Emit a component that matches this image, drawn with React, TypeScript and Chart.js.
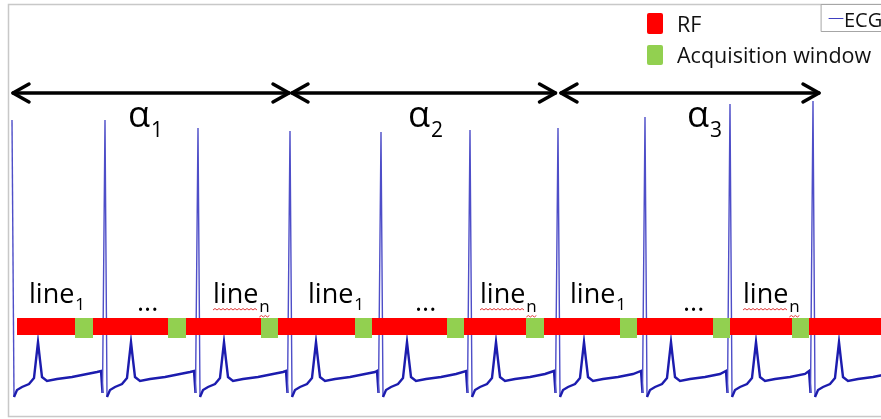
import React, { useEffect, useRef } from "react";
import { Chart, registerables } from "chart.js";

Chart.register(...registerables);

// ---- data (time in ms, amplitude in mV) ----
const rPeakTimes = [30, 960, 1890, 2810, 3720, 4610, 5490, 6360, 7210, 8040];
const rPeakAmps = [2.46, 2.46, 2.38, 2.35, 2.34, 2.36, 2.38, 2.49, 2.62, 2.65];
// one beat: offset from the R peak (ms) and amplitude (mV); offset 0 = R peak
const beatOffsets = [-40, -25, 0, 20, 50, 100, 170, 220, 240, 260, 280, 300, 350, 450, 600, 750, 850];
const beatAmps = [-0.05, -0.27, 0, -0.31, -0.24, -0.21, -0.18, -0.12, 0.06, 0.24, 0.06, -0.11, -0.15, -0.13, -0.11, -0.08, -0.06];

const rfStart = 80;
const rfEnd = 8810;
const rfLow = 0.31;
const rfHigh = 0.48;

const acqStarts = [660, 1590, 2520, 3460, 4380, 5170, 6110, 7040, 7830];
const acqEnds = [840, 1770, 2690, 3630, 4550, 5350, 6280, 7210, 8000];
const acqLow = 0.28;
const acqHigh = 0.48;

const arrowStarts = [30, 2820, 5510];
const arrowEnds = [2810, 5475, 8110];
const arrowLevel = 2.73;

const alphaTimes = [1190, 3990, 6780];
const alphaSubs = ["1", "2", "3"];
const alphaLevel = 2.39;
const alphaSubLevel = 2.29;

const lineFirstTimes = [200, 2990, 5610];
const dotsTimes = [1280, 4060, 6740];
const lineLastTimes = [2040, 4710, 7340];
const lineLevel = 0.63;
const lineSubLevel = 0.56;
const dotsLevel = 0.55;

const X_MIN = 0;
const X_MAX = 8810;
const Y_MIN = -0.5;
const Y_MAX = 3.61;

function buildEcg() {
  const pts: { x: number; y: number }[] = [];
  rPeakTimes.forEach((t, i) => {
    const next = i + 1 < rPeakTimes.length ? rPeakTimes[i + 1] : Infinity;
    beatOffsets.forEach((dx, j) => {
      if (i === 0 && dx < 0) return;
      if (dx > 0 && t + dx >= next - 45) return;
      pts.push({ x: t + dx, y: dx === 0 ? rPeakAmps[i] : beatAmps[j] });
    });
  });
  return pts;
}

const FONT = '"Open Sans", "DejaVu Sans", sans-serif';

export default function App() {
  const ref = useRef<HTMLCanvasElement>(null);

  useEffect(() => {
    const canvas = ref.current;
    if (!canvas) return;

    const diagram = {
      id: "diagram",
      beforeDatasetsDraw(chart: any) {
        const { ctx, chartArea } = chart;
        ctx.save();
        ctx.strokeStyle = "#c8c8c8";
        ctx.lineWidth = 1.5;
        ctx.strokeRect(chartArea.left - 0.5, chartArea.top - 0.5, chartArea.right - chartArea.left + 1, chartArea.bottom - chartArea.top + 1);
        ctx.restore();
      },
      afterDatasetsDraw(chart: any) {
        const { ctx } = chart;
        const xs = chart.scales.x;
        const ys = chart.scales.y;
        const px = (v: number) => xs.getPixelForValue(v);
        const py = (v: number) => ys.getPixelForValue(v);
        ctx.save();

        // RF bar
        ctx.fillStyle = "#ff0000";
        ctx.fillRect(px(rfStart), py(rfHigh), px(rfEnd) - px(rfStart), py(rfLow) - py(rfHigh));
        // acquisition windows
        ctx.fillStyle = "#92d050";
        acqStarts.forEach((s, i) => {
          ctx.fillRect(px(s), py(acqHigh), px(acqEnds[i]) - px(s), py(acqLow) - py(acqHigh));
        });

        // arrows
        ctx.strokeStyle = "#000";
        ctx.lineWidth = 3.5;
        ctx.lineCap = "round";
        ctx.lineJoin = "round";
        const ya = py(arrowLevel);
        arrowStarts.forEach((s, i) => {
          const x1 = px(s);
          const x2 = px(arrowEnds[i]);
          ctx.beginPath();
          ctx.moveTo(x1 + 1, ya);
          ctx.lineTo(x2 - 1, ya);
          ctx.stroke();
          ctx.beginPath();
          ctx.moveTo(x1 + 17, ya - 9);
          ctx.lineTo(x1 + 1, ya);
          ctx.lineTo(x1 + 17, ya + 9);
          ctx.stroke();
          ctx.beginPath();
          ctx.moveTo(x2 - 17, ya - 9);
          ctx.lineTo(x2 - 1, ya);
          ctx.lineTo(x2 - 17, ya + 9);
          ctx.stroke();
        });

        // alpha labels
        ctx.fillStyle = "#000";
        ctx.textAlign = "left";
        ctx.textBaseline = "alphabetic";
        alphaTimes.forEach((t, i) => {
          ctx.font = `36px ${FONT}`;
          const x = px(t);
          ctx.fillText("α", x, py(alphaLevel));
          const w = ctx.measureText("α").width;
          ctx.font = `21px ${FONT}`;
          ctx.fillText(alphaSubs[i], x + w + 1, py(alphaSubLevel));
        });

        const wavy = (x0: number, x1: number, y: number) => {
          ctx.save();
          ctx.strokeStyle = "#e03a3a";
          ctx.lineWidth = 1;
          ctx.lineCap = "butt";
          ctx.beginPath();
          let up = true;
          ctx.moveTo(x0, y);
          for (let x = x0 + 2; x <= x1; x += 2) {
            ctx.lineTo(x, up ? y - 1.5 : y);
            up = !up;
          }
          ctx.stroke();
          ctx.restore();
        };

        // line labels
        lineFirstTimes.forEach((t) => {
          const x = px(t);
          ctx.font = `27px ${FONT}`;
          ctx.fillText("line", x, py(lineLevel));
          const w = ctx.measureText("line").width;
          ctx.font = `17px ${FONT}`;
          ctx.fillText("1", x + w + 1, py(lineSubLevel));
        });
        dotsTimes.forEach((t) => {
          ctx.font = `27px ${FONT}`;
          ctx.fillText("...", px(t), py(dotsLevel));
        });
        lineLastTimes.forEach((t) => {
          const x = px(t);
          ctx.font = `27px ${FONT}`;
          ctx.fillText("line", x, py(lineLevel));
          const w = ctx.measureText("line").width;
          ctx.font = `17px ${FONT}`;
          ctx.fillText("n", x + w + 1, py(lineSubLevel) + 2);
          const wn = ctx.measureText("n").width;
          wavy(x, x + w, py(lineLevel) + 7);
          wavy(x + w + 1, x + w + 1 + wn, py(lineSubLevel) + 7);
        });

        // legend (RF / Acquisition window)
        ctx.fillStyle = "#ff0000";
        ctx.beginPath();
        ctx.roundRect(647, 13, 16, 21, 2);
        ctx.fill();
        ctx.fillStyle = "#92d050";
        ctx.beginPath();
        ctx.roundRect(647, 45, 16, 20, 2);
        ctx.fill();
        ctx.fillStyle = "#111";
        ctx.font = `21.5px ${FONT}`;
        ctx.fillText("RF", 677, 32);
        ctx.fillText("Acquisition window", 677, 63);

        // ECG legend box
        ctx.fillStyle = "#fff";
        ctx.fillRect(821, 5, 90, 27);
        ctx.strokeStyle = "#a6a6a6";
        ctx.lineWidth = 1;
        ctx.strokeRect(821.5, 4.5, 90, 27);
        ctx.strokeStyle = "#4040c0";
        ctx.lineWidth = 1;
        ctx.beginPath();
        ctx.moveTo(829, 18.5);
        ctx.lineTo(843, 18.5);
        ctx.stroke();
        ctx.fillStyle = "#111";
        ctx.font = `20px ${FONT}`;
        ctx.fillText("ECG", 844, 27);

        ctx.restore();
      },
    };

    const chart = new Chart(canvas, {
      type: "line",
      data: {
        datasets: [
          {
            label: "ECG",
            data: buildEcg(),
            borderColor: "#1c1cae",
            borderWidth: 2.4,
            pointRadius: 0,
            tension: 0,
            segment: {
              borderColor: (c: any) => (Math.abs(c.p1.parsed.y - c.p0.parsed.y) > 1 ? "#4e4ec8" : undefined),
              borderWidth: (c: any) => (Math.abs(c.p1.parsed.y - c.p0.parsed.y) > 1 ? 1.4 : undefined),
            },
          },
        ],
      },
      options: {
        animation: false,
        responsive: false,
        maintainAspectRatio: false,
        layout: { padding: { left: 9, top: 5, right: 10, bottom: 3 } },
        scales: {
          x: { type: "linear", min: X_MIN, max: X_MAX, display: false },
          y: { type: "linear", min: Y_MIN, max: Y_MAX, display: false },
        },
        plugins: {
          legend: { display: false },
          tooltip: { enabled: false },
        },
      },
      plugins: [diagram],
    } as any);

    return () => chart.destroy();
  }, []);

  return (
    <div style={{ position: "fixed", left: 0, top: 0, width: 881, height: 419, overflow: "hidden", background: "#fff" }}>
      <canvas ref={ref} width={900} height={419} style={{ display: "block", width: 900, height: 419 }} />
    </div>
  );
}
